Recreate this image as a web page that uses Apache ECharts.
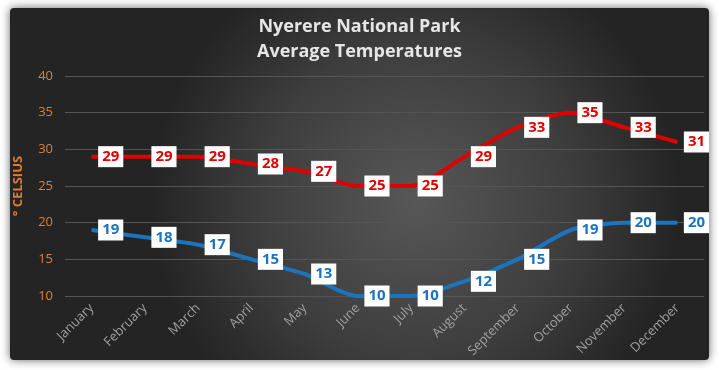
<!DOCTYPE html>
<html><head><meta charset="utf-8">
<script src="https://cdn.jsdelivr.net/npm/echarts@6/dist/echarts.min.js"></script>
<style>html,body{margin:0;padding:0;background:#fff}#c{width:719px;height:370px}</style>
</head><body><div id="c"></div>
<script>
const months = ['January','February','March','April','May','June','July','August','September','October','November','December'];
const highTemps = [29,29,29,28,27,25,25,29,33,35,33,31];
const lowTemps = [19,18,17,15,13,10,10,12,15,19,20,20];
const yTicks = {min:10, max:40, interval:5};

const chart = echarts.init(document.getElementById('c'));
function labelStyle(color){
  return {show:true, position:'right', distance:6, color:color, fontWeight:'bold', fontSize:15,
    fontFamily:'Open Sans', backgroundColor:'#fff', padding:[4,4,2,4]};
}
chart.setOption({
  backgroundColor:'#fff',
  graphic:[{type:'rect', z:-10, silent:true,
    shape:{x:10,y:8,width:699,height:352, r:4},
    style:{fill:{type:'radial',x:0.58,y:0.55,r:0.75,colorStops:[{offset:0,color:'#575757'},{offset:0.6,color:'#3d3d3d'},{offset:1,color:'#242424'}]},
      shadowBlur:10, shadowColor:'rgba(0,0,0,0.6)'}}],
  title:{text:'Nyerere National Park\nAverage Temperatures', left:'center', top:9,
    textStyle:{color:'#e6e6e6', fontSize:18, fontWeight:'bold', fontFamily:'Open Sans', lineHeight:25}},
  grid:{left:65, right:15, top:76, bottom:74},
  xAxis:{type:'category', data:months, boundaryGap:true,
    axisLine:{show:false}, axisTick:{show:false},
    axisLabel:{rotate:45, color:'#a0a0a0', fontSize:13, fontFamily:'Open Sans', margin:10, interval:0}},
  yAxis:{type:'value', min:yTicks.min, max:yTicks.max, interval:yTicks.interval,
    name:'° CELSIUS', nameLocation:'middle', nameGap:40, nameRotate:90,
    nameTextStyle:{color:'#e07b2e', fontSize:13, fontWeight:'bold', fontFamily:'Open Sans'},
    axisLabel:{color:'#d9823b', fontSize:13, fontFamily:'Open Sans', margin:12},
    splitLine:{lineStyle:{color:'#555', width:1}}},
  series:[
    {name:'High', type:'line', data:highTemps, smooth:0.25, symbol:'circle', symbolSize:1, showSymbol:true,
      itemStyle:{color:'#e00000'},
      lineStyle:{color:'#e00000', width:4}, label:labelStyle('#e00000')},
    {name:'Low', type:'line', data:lowTemps, smooth:0.25, symbol:'circle', symbolSize:1, showSymbol:true,
      itemStyle:{color:'#1b74bd'},
      lineStyle:{color:'#1b74bd', width:4}, label:labelStyle('#1b74bd')}
  ]
});
</script></body></html>
